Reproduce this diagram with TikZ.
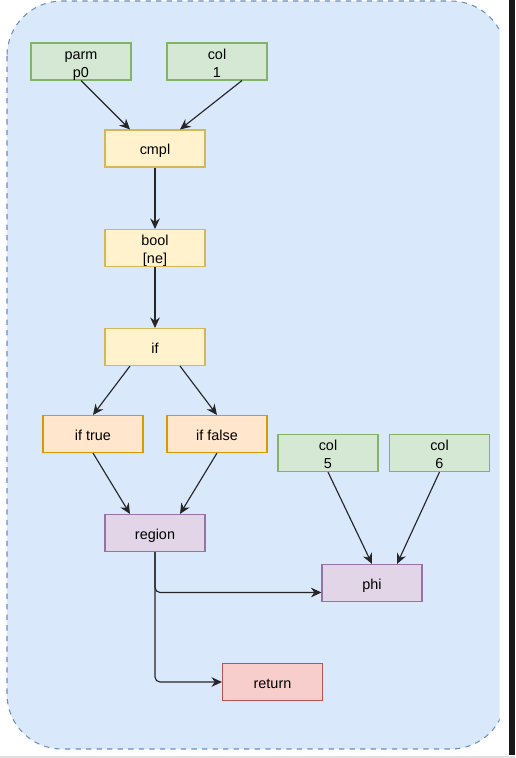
\documentclass[tikz,border=0pt]{standalone}
\usepackage{fontspec}
\setmainfont{Liberation Sans}
\usetikzlibrary{arrows.meta}

\definecolor{grnfill}{HTML}{D5E8D4}
\definecolor{grnline}{HTML}{82B366}
\definecolor{ylwfill}{HTML}{FFF2CC}
\definecolor{ylwline}{HTML}{D6B656}
\definecolor{orgfill}{HTML}{FFE6CC}
\definecolor{orgline}{HTML}{D79B00}
\definecolor{prpfill}{HTML}{E1D5E7}
\definecolor{prpline}{HTML}{9673A6}
\definecolor{redfill}{HTML}{F8CECC}
\definecolor{redline}{HTML}{B85450}
\definecolor{bluefill}{HTML}{DAE8FC}
\definecolor{blueline}{HTML}{6C8EBF}

\begin{document}
\begin{tikzpicture}[x=0.02cm, y=-0.02cm]

\tikzset{box/.style={shape=rectangle, draw, minimum width=2cm, minimum height=0.74cm, inner sep=0, align=center, line width=0.6pt, font=\fontsize{8.2}{10}\selectfont, text height=8.8pt, text depth=1.5pt}}
\tikzset{twoline/.style={text height=19.2pt}}
\tikzset{constant/.style={box, twoline, fill=grnfill, draw=grnline}}
\tikzset{compare/.style={box, fill=ylwfill, draw=ylwline}}
\tikzset{branch/.style={box, fill=orgfill, draw=orgline}}
\tikzset{merge/.style={box, fill=prpfill, draw=prpline}}
\tikzset{exit/.style={box, fill=redfill, draw=redline}}
\tikzset{flow/.style={->, >={Stealth[length=6pt, width=5.5pt]}, line width=0.65pt, color=black!85}}
\tikzset{container/.style={fill=bluefill, draw=blueline, dashed, line width=0.6pt, rounded corners=1.1cm}}

\useasboundingbox (0,0) rectangle (515,758);
\fill[black!90] (509,0) rectangle (515,755);
\fill[black!12] (0,755.5) rectangle (515,758);
\begin{scope}
\clip (0,0) rectangle (499.5,758);
\draw[container] (7,1) rectangle (506,749);
\end{scope}

\node[constant] (p0) at (81,61.5) {parm\\p0};
\node[constant] (c1) at (217,61.5) {col\\1};
\node[compare] (cmpl) at (155,148.5) {cmpl};
\node[compare, twoline] (bool) at (155,248) {bool\\{[ne]}};
\node[compare] (if) at (155,347) {if};
\node[branch] (iftrue) at (93,434) {if true};
\node[branch] (iffalse) at (217,434) {if false};
\node[merge] (region) at (155,533) {region};
\node[constant] (c5) at (328,453) {col\\5};
\node[constant] (c6) at (439.5,453) {col\\6};
\node[merge] (phi) at (372,583) {phi};
\node[exit] (ret) at (272.5,682) {return};

\draw[flow] (p0.south) -- ([xshift=-0.5cm]cmpl.north);
\draw[flow] ([xshift=0.5cm]c1.south) -- ([xshift=0.5cm]cmpl.north);
\draw[flow] (cmpl) -- (bool);
\draw[flow] (bool) -- (if);
\draw[flow] ([xshift=-0.5cm]if.south) -- (iftrue.north);
\draw[flow] ([xshift=0.5cm]if.south) -- (iffalse.north);
\draw[flow] (iftrue.south) -- ([xshift=-0.5cm]region.north);
\draw[flow] (iffalse.south) -- ([xshift=0.5cm]region.north);
\draw[flow] (c5.south) -- (phi.north);
\draw[flow] (c6.south) -- ([xshift=0.5cm]phi.north);
\draw[flow, rounded corners=0.1cm] (region.south) |- ([yshift=-0.19cm]phi.west);
\draw[flow, rounded corners=0.1cm] (region.south) |- (ret.west);

\end{tikzpicture}
\end{document}
